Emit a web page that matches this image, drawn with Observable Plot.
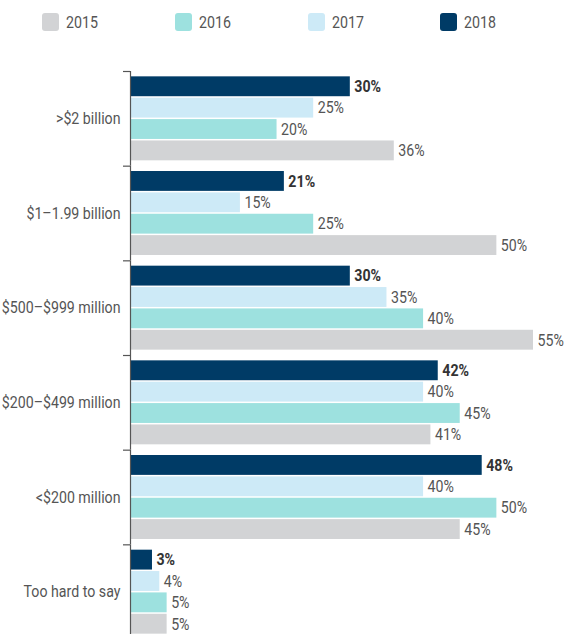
<!DOCTYPE html>
<html>
<head>
<meta charset="utf-8">
<script src="https://cdn.jsdelivr.net/npm/d3@7"></script>
<script src="https://cdn.jsdelivr.net/npm/@observablehq/plot@0.6"></script>
<style>
  html, body { margin: 0; padding: 0; overflow: hidden; background: #fff; }
  body { width: 566px; height: 634px; font-family: Roboto, "Liberation Sans", sans-serif; }
  #legend { position: relative; height: 44px; width: 566px; }
  .item { position: absolute; top: 13px; display: flex; align-items: center; font-size: 16.5px; color: #555; height: 18px; }
  .sw { width: 17px; height: 18px; border-radius: 3px; margin-right: 7px; flex: none; }
  .item span { display: inline-block; transform: scaleX(0.86); transform-origin: left center; }
  #chart svg { display: block; }
</style>
</head>
<body>
<div id="legend"></div>
<div id="chart"></div>
<script>
const categories = [">$2 billion", "$1–1.99 billion", "$500–$999 million", "$200–$499 million", "<$200 million", "Too hard to say"];
const years = ["2015", "2016", "2017", "2018"];
const v2015 = [36, 50, 55, 41, 45, 5];
const v2016 = [20, 25, 40, 45, 50, 5];
const v2017 = [25, 15, 35, 40, 40, 4];
const v2018 = [30, 21, 30, 42, 48, 3];
const colors = ["#d2d3d5", "#9de1df", "#cdeaf7", "#003b66"];

const series = {"2015": v2015, "2016": v2016, "2017": v2017, "2018": v2018};
const rows = [];
categories.forEach((c, i) => years.forEach(y => rows.push({cat: c, year: y, value: series[y][i]})));

// legend
const legend = document.getElementById("legend");
const legendX = [42, 175, 308, 440];
years.forEach((y, i) => {
  const d = document.createElement("div");
  d.className = "item";
  d.style.left = legendX[i] + "px";
  d.innerHTML = `<div class="sw" style="background:${colors[i]}"></div><span>${y}</span>`;
  legend.appendChild(d);
});

const H = 595, MT = 27, MB = 0;
const step = (H - MT - MB) / categories.length;
const font = 'Roboto, "Liberation Sans", sans-serif';

const chart = Plot.plot({
  width: 566,
  height: H,
  marginTop: MT,
  marginBottom: MB,
  marginLeft: 130,
  marginRight: 33,
  style: {fontFamily: font, fontSize: "16.5px", color: "#555", background: "#fff"},
  x: {domain: [0, 55], axis: null},
  y: {domain: ["2018", "2017", "2016", "2015"], paddingInner: 0.07, paddingOuter: 0.25, round: false, axis: null},
  fy: {domain: categories, padding: 0, round: false},
  color: {domain: years, range: colors},
  marks: [
    Plot.barX(rows, {fy: "cat", y: "year", x: "value", fill: "year"}),
    Plot.ruleX([0], {stroke: "#555", strokeWidth: 1.2}),
    Plot.text(rows.filter(d => d.year !== "2018"), {fy: "cat", y: "year", x: "value", text: d => d.value + "%", textAnchor: "start", dx: 4, fill: "#555"}),
    Plot.text(rows.filter(d => d.year === "2018"), {fy: "cat", y: "year", x: "value", text: d => d.value + "%", textAnchor: "start", dx: 4, fill: "#333", fontWeight: "bold"}),
    Plot.axisFy({anchor: "left", tickSize: 0, tickPadding: 10, label: null, fill: "#555"}),
    Plot.axisFy({anchor: "left", tickSize: 7, fill: "none", label: null, stroke: "#555", strokeWidth: 1.2, dy: -step / 2})
  ]
});
document.getElementById("chart").appendChild(chart);

// horizontally condense all texts (narrow typeface look)
const S = 0.86;
chart.querySelectorAll("text").forEach(t => {
  const x = +(t.getAttribute("x") || 0);
  const tr = t.getAttribute("transform") || "";
  t.setAttribute("transform", `${tr} translate(${x},0) scale(${S},1) translate(${-x},0)`.trim());
});
</script>
</body>
</html>
